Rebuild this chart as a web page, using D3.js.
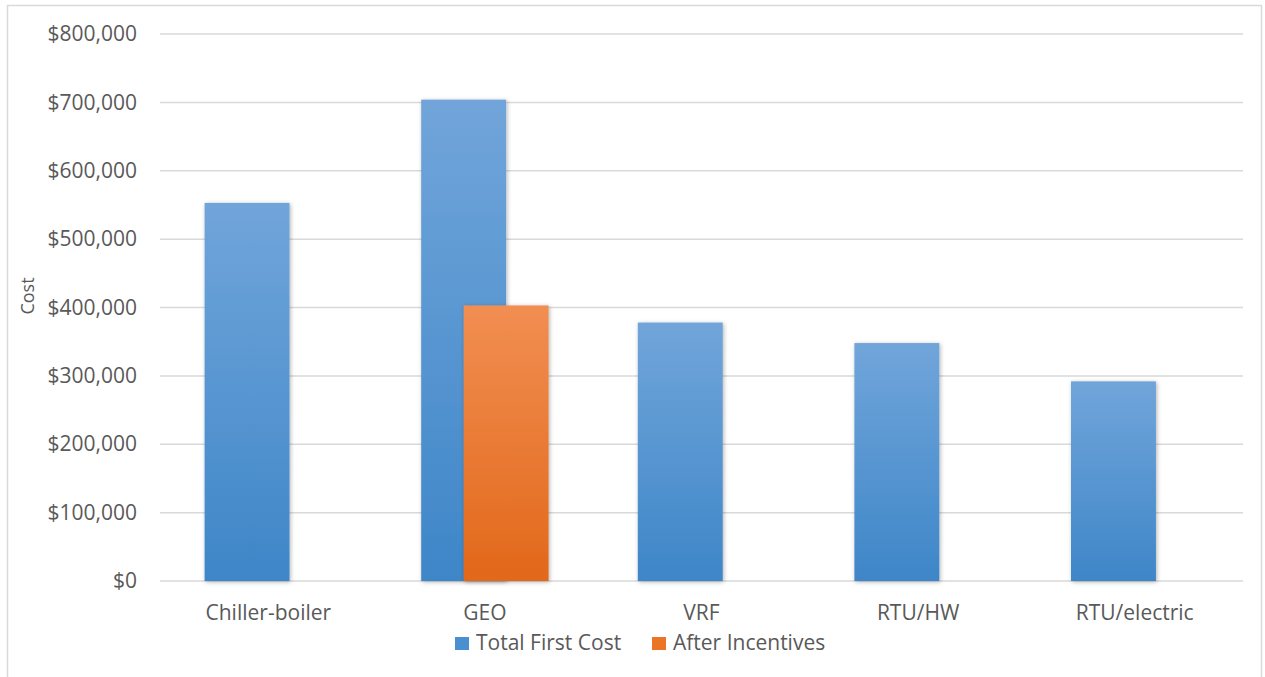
<!DOCTYPE html>
<html>
<head>
<meta charset="utf-8">
<script src="https://cdn.jsdelivr.net/npm/d3@7"></script>
<style>
  html, body { margin: 0; padding: 0; background: #fff; }
  svg { display: block; }
  text { font-family: "Open Sans", "Noto Sans", sans-serif; fill: #595959; }
</style>
</head>
<body>
<svg id="chart" width="1265" height="677"></svg>
<script>
// System types compared
const categories = ["Chiller-boiler", "GEO", "VRF", "RTU/HW", "RTU/electric"];
// Installed cost per system (USD)
const totalFirstCost = [553000, 704000, 378000, 348000, 292000];
// Cost after incentives (only reported for GEO)
const afterIncentives = [null, 403000, null, null, null];
const seriesNames = ["Total First Cost", "After Incentives"];
const yTicks = [0, 100000, 200000, 300000, 400000, 500000, 600000, 700000, 800000];

const svg = d3.select("#chart");
const FONT = '"Open Sans", "Noto Sans", sans-serif';

// Chart frame
svg.append("rect")
  .attr("x", 7.5).attr("y", 5.5)
  .attr("width", 1254).attr("height", 680)
  .attr("fill", "#fff").attr("stroke", "#d9d9d9").attr("stroke-width", 1.5);

const plot = { left: 160, right: 1243, top: 34, bottom: 581 };

const x = d3.scaleBand().domain(categories).range([plot.left, plot.right]).paddingInner(0).paddingOuter(0);
const y = d3.scaleLinear().domain([0, 800000]).range([plot.bottom, plot.top]);

// Bar geometry: two series with 50% overlap, gap roughly one bar width
const barW = x.bandwidth() / 2.55;
const groupW = barW * 1.5;

const defs = svg.append("defs");
function grad(id, top, bottom) {
  const g = defs.append("linearGradient").attr("id", id)
    .attr("x1", 0).attr("y1", 0).attr("x2", 0).attr("y2", 1);
  g.append("stop").attr("offset", "0%").attr("stop-color", top);
  g.append("stop").attr("offset", "100%").attr("stop-color", bottom);
}
grad("gBlue", "#71a5da", "#3e86c8");
grad("gOrange", "#f18e52", "#e2681a");
const sh = defs.append("filter").attr("id", "shadow")
  .attr("x", "-20%").attr("y", "-10%").attr("width", "140%").attr("height", "120%");
sh.append("feDropShadow").attr("dx", 1).attr("dy", 1).attr("stdDeviation", 2)
  .attr("flood-color", "#000").attr("flood-opacity", 0.3);

// Gridlines
svg.append("g").selectAll("line").data(yTicks).join("line")
  .attr("x1", plot.left).attr("x2", plot.right)
  .attr("y1", d => y(d)).attr("y2", d => y(d))
  .attr("stroke", "#d9d9d9").attr("stroke-width", 1.5);

// Y axis labels
const fmt = d => "$" + d3.format(",")(d);
const yAxis = d3.axisLeft(y).tickValues(yTicks).tickFormat(fmt).tickSize(0).tickPadding(0);
const gy = svg.append("g").attr("transform", `translate(${plot.left - 23},0)`).call(yAxis);
gy.select(".domain").remove();
gy.selectAll("text").style("font-size", "21px").style("font-family", FONT).attr("fill", "#595959");

// Y axis title
svg.append("text")
  .attr("transform", "translate(34,296) rotate(-90)")
  .attr("text-anchor", "middle")
  .style("font-size", "18px")
  .text("Cost");

// Bars
const bars = svg.append("g");
bars.selectAll("rect.total").data(categories).join("rect")
  .attr("class", "total")
  .attr("x", c => x(c) + (x.bandwidth() - groupW) / 2)
  .attr("width", barW)
  .attr("y", (c, i) => y(totalFirstCost[i]))
  .attr("height", (c, i) => y(0) - y(totalFirstCost[i]))
  .attr("fill", "url(#gBlue)")
  .attr("filter", "url(#shadow)");

const incData = categories.map((c, i) => ({ c, v: afterIncentives[i] })).filter(d => d.v != null);
bars.selectAll("rect.after").data(incData).join("rect")
  .attr("class", "after")
  .attr("x", d => x(d.c) + (x.bandwidth() - groupW) / 2 + barW * 0.5)
  .attr("width", barW)
  .attr("y", d => y(d.v))
  .attr("height", d => y(0) - y(d.v))
  .attr("fill", "url(#gOrange)")
  .attr("filter", "url(#shadow)");

// X axis labels
const xAxis = d3.axisBottom(x).tickSize(0).tickPadding(0);
const gx = svg.append("g").attr("transform", `translate(0,${plot.bottom})`).call(xAxis);
gx.select(".domain").remove();
gx.selectAll("text").attr("y", 39).attr("dy", 0)
  .style("font-size", "21px").style("font-family", FONT).attr("fill", "#595959");

// Legend
const legend = svg.append("g");
const legendItems = [
  { name: seriesNames[0], color: "#4a8fd0", x: 455 },
  { name: seriesNames[1], color: "#ec7426", x: 652 }
];
legendItems.forEach(it => {
  legend.append("rect").attr("x", it.x).attr("y", 637).attr("width", 14).attr("height", 13).attr("fill", it.color);
  legend.append("text").attr("x", it.x + 21).attr("y", 650).style("font-size", "21px").text(it.name);
});
</script>
</body>
</html>
